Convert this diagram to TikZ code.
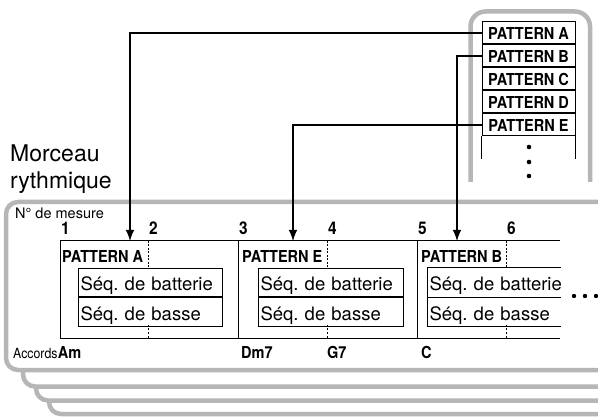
\documentclass[tikz,border=0pt]{standalone}
\usepackage{fontspec}
\setmainfont{TeX Gyre Heros}
\newfontfamily\condfont{TeX Gyre Heros}[FakeStretch=0.88]
\usetikzlibrary{arrows.meta,positioning}
\definecolor{framegray}{RGB}{182,182,182}
\tikzset{
  frame/.style={draw=framegray, line width=4.5pt, rounded corners=12pt},
  patrow/.style={draw, line width=1pt, minimum width=93pt, minimum height=22pt,
    inner sep=0pt, font=\fontsize{16.5}{17}\condfont\bfseries},
  patlbl/.style={anchor=base west, inner sep=0pt, font=\fontsize{16.5}{17}\condfont\bfseries},
  num/.style={anchor=base west, inner sep=0pt, font=\fontsize{17.5}{18}\condfont\bfseries},
  chord/.style={anchor=base west, inner sep=0pt, font=\fontsize{16.5}{17}\condfont\bfseries},
  small/.style={anchor=base west, inner sep=0pt, font=\fontsize{14.5}{15}\selectfont},
  cell/.style={draw, line width=1pt, anchor=north west, text height=22pt, text depth=6.5pt,
    inner xsep=2pt, inner ysep=0pt, align=left, font=\fontsize{18.5}{20}\selectfont\frenchspacing},
  dotline/.style={line width=1pt, dash pattern=on 2pt off 1.5pt},
  conn/.style={line width=1.1pt, -{Latex[length=11pt,width=8.5pt]}}
}
\begin{document}
\begin{tikzpicture}[x=1pt,y=-1pt]
  \useasboundingbox (0,0) rectangle (598,417);
  % stacked song panels
  \begin{scope}
    \clip (0,0) rectangle (598,417);
    \foreach \l/\b in {49/414,36/400.5,23/386.5,6/370}{
      \filldraw[frame, fill=white] (\l,\b-168) rectangle (640,\b);
    }
  \end{scope}
  % pattern memory
  \draw[frame, rounded corners=15pt] (470.5,182) -- (470.5,11.5) -- (590,11.5) -- (590,182);
  \node[patrow] (pA) at (528.5,33) {PATTERN A};
  \node[patrow, below=0pt of pA] (pB) {PATTERN B};
  \node[patrow, below=0pt of pB] (pC) {PATTERN C};
  \node[patrow, below=0pt of pC] (pD) {PATTERN D};
  \node[patrow, below=0pt of pD] (pE) {PATTERN E};
  \draw[line width=1pt] (pE.south west) -- ++(0,23);
  \draw[line width=1pt] (pE.south east) -- ++(0,23);
  \foreach \y in {147,162,176}{
    \fill (529,\y) circle (2.3pt);
  }
  % titles
  \node[anchor=north west, inner sep=0pt, align=left,
    font=\fontsize{23}{27}\selectfont] (title) at (10,145) {Morceau\\rythmique};
  \node[small] (mesure) at (15,219) {N° de mesure};
  \foreach \n/\x in {1/60,2/148,3/238,4/327,5/417,6/506}{
    \node[num] (m\n) at (\x+1,235) {\n};
  }
  % measures
  \draw[line width=1pt] (560,241) -- (60,241) -- (60,338) -- (560,338);
  \draw[line width=1pt] (238,241) -- (238,338) (417,241) -- (417,338);
  \foreach \x in {148,327,506}{
    \draw[dotline] (\x,241) -- (\x,268);
    \draw[dotline] (\x,325) -- (\x,338);
  }
  \node[patlbl] (lA) at (62,262) {PATTERN A};
  \node[patlbl] (lE) at (242,262) {PATTERN E};
  \node[patlbl] (lB) at (421,262) {PATTERN B};
  \node[cell, text width=140pt] (bat1) at (78,268) {Séq. de batterie};
  \node[cell, text width=140pt] (bas1) at (bat1.south west) {Séq. de basse};
  \node[cell, text width=141pt] (bat2) at (258,268) {Séq. de batterie};
  \node[cell, text width=141pt] (bas2) at (bat2.south west) {Séq. de basse};
  \node[cell, draw=none, text width=129pt] (bat3) at (427,268) {\mbox{Séq. de batterie}};
  \node[cell, draw=none, text width=129pt] (bas3) at (bat3.south west) {Séq. de basse};
  \draw[line width=1pt] (bat3.north east) -- (bat3.north west) -- (bas3.south west) -- (bas3.south east)
    (bat3.south west) -- (bat3.south east);
  \foreach \x in {574,585,596}{
    \fill (\x,296) circle (2.2pt);
  }
  % chords
  \node[small, font=\fontsize{14}{15}\condfont] (acc) at (13,359) {Accords};
  \node[chord] (cAm) at (acc.base east) {Am};
  \node[chord] (cDm) at (241,359) {Dm7};
  \node[chord] (cG) at (327,359) {G7};
  \node[chord] (cC) at (421,359) {C};
  % links
  \coordinate (tA) at (130,241);
  \coordinate (tE) at (293,241);
  \coordinate (tB) at (457,241);
  \draw[conn] (pA.west) -| (tA);
  \draw[conn] (pB.west) -| (tB);
  \draw[conn] (pE.west) -| (tE);
\end{tikzpicture}
\end{document}
